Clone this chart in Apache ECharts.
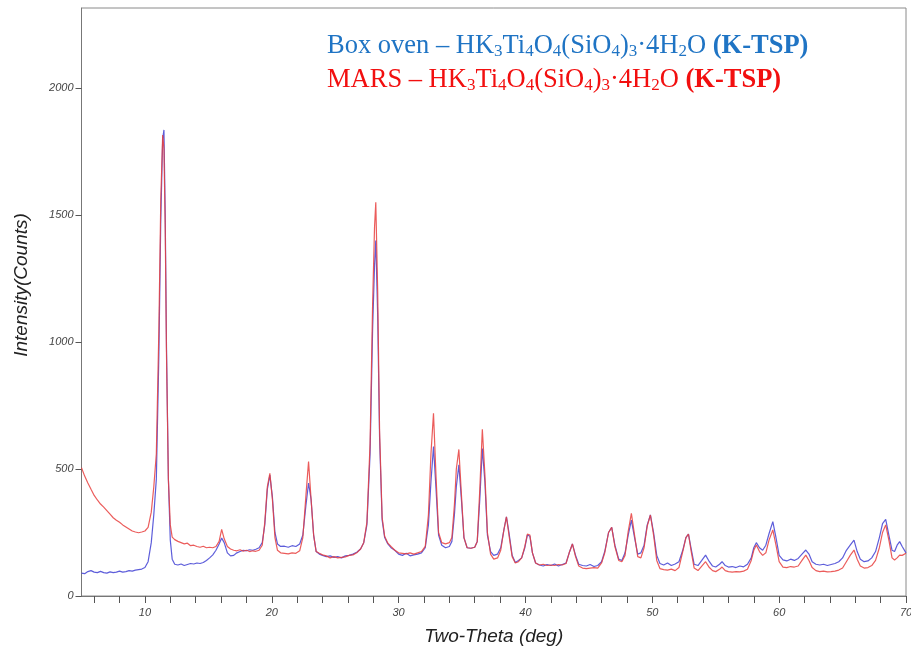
<!DOCTYPE html>
<html>
<head>
<meta charset="utf-8">
<style>
  html, body { margin: 0; padding: 0; background: #fff; }
  #chart { width: 911px; height: 649px; }
</style>
<script src="https://cdn.jsdelivr.net/npm/echarts@6/dist/echarts.min.js"></script>
</head>
<body>
<div id="chart"></div>
<script>
// 2-theta positions (deg) shared by both patterns
const twoTheta = [
  5.0, 5.25, 5.5, 5.75, 6.0, 6.25, 6.5, 6.75, 7.0, 7.25, 7.5, 7.75, 8.0, 8.25, 8.5, 8.75,
  9.0, 9.25, 9.5, 9.75, 10.0, 10.25, 10.5, 10.7, 10.9, 11.1, 11.25, 11.4, 11.5, 11.6, 11.7, 11.85,
  12.0, 12.15, 12.35, 12.6, 12.85, 13.1, 13.35, 13.6, 13.85, 14.1, 14.35, 14.6, 14.85, 15.1, 15.35, 15.6,
  15.85, 16.05, 16.25, 16.5, 16.75, 17.0, 17.25, 17.5, 17.75, 18.0, 18.25, 18.5, 18.75, 19.0, 19.25, 19.45,
  19.65, 19.85, 20.05, 20.25, 20.45, 20.7, 21.0, 21.3, 21.6, 21.9, 22.2, 22.45, 22.7, 22.9, 23.1, 23.3,
  23.5, 23.75, 24.0, 24.3, 24.6, 24.9, 25.2, 25.5, 25.8, 26.1, 26.4, 26.7, 27.0, 27.25, 27.5, 27.75,
  27.95, 28.1, 28.2, 28.35, 28.5, 28.7, 28.9, 29.15, 29.4, 29.7, 30.0, 30.3, 30.6, 30.9, 31.2, 31.5,
  31.8, 32.1, 32.35, 32.55, 32.75, 32.95, 33.15, 33.4, 33.7, 34.0, 34.2, 34.4, 34.55, 34.75, 34.95, 35.15,
  35.4, 35.7, 36.0, 36.2, 36.4, 36.6, 36.8, 37.0, 37.25, 37.5, 37.8, 38.05, 38.3, 38.5, 38.7, 38.95,
  39.2, 39.45, 39.7, 39.95, 40.15, 40.35, 40.55, 40.8, 41.1, 41.4, 41.7, 42.0, 42.3, 42.6, 42.9, 43.2,
  43.45, 43.7, 43.95, 44.2, 44.5, 44.8, 45.1, 45.4, 45.7, 46.0, 46.25, 46.55, 46.8, 47.05, 47.35, 47.6,
  47.85, 48.1, 48.35, 48.6, 48.85, 49.1, 49.35, 49.6, 49.85, 50.1, 50.35, 50.6, 50.9, 51.2, 51.5, 51.8,
  52.1, 52.4, 52.65, 52.85, 53.05, 53.3, 53.6, 53.9, 54.2, 54.5, 54.75, 55.0, 55.3, 55.5, 55.75, 56.0,
  56.3, 56.6, 56.9, 57.2, 57.5, 57.8, 58.0, 58.2, 58.45, 58.7, 58.95, 59.2, 59.5, 59.75, 60.0, 60.3,
  60.6, 60.9, 61.2, 61.5, 61.8, 62.1, 62.35, 62.6, 62.9, 63.2, 63.5, 63.8, 64.1, 64.4, 64.7, 65.0,
  65.3, 65.6, 65.9, 66.15, 66.4, 66.7, 67.0, 67.3, 67.6, 67.9, 68.15, 68.4, 68.65, 68.9, 69.1, 69.3,
  69.5, 69.7, 70.0
];

// Box oven pattern (counts)
const boxOven = [
  90, 88, 96, 100, 94, 92, 97, 92, 90, 95, 92, 94, 98, 94, 96, 100,
  98, 102, 104, 106, 112, 135, 210, 320, 460, 950, 1480, 1800, 1835, 1500, 980, 460,
  220, 145, 125, 122, 126, 120, 124, 128, 126, 130, 128, 132, 140, 150, 162, 180,
  205, 228, 210, 170, 158, 160, 170, 175, 180, 178, 182, 180, 184, 190, 210, 280,
  420, 476, 390, 250, 205, 195, 196, 192, 198, 195, 205, 240, 360, 445, 380, 240,
  175, 165, 160, 155, 158, 152, 155, 150, 158, 160, 165, 172, 185, 210, 280, 560,
  1050, 1300, 1400, 1100, 620, 300, 230, 205, 190, 180, 165, 160, 168, 158, 162, 165,
  170, 190, 280, 450, 588, 420, 240, 200, 190, 195, 215, 320, 430, 516, 380, 230,
  190, 188, 192, 215, 380, 581, 450, 240, 175, 160, 165, 190, 260, 312, 250, 160,
  132, 140, 150, 190, 240, 235, 170, 130, 122, 118, 124, 120, 126, 118, 124, 130,
  170, 205, 160, 125, 120, 118, 124, 116, 120, 135, 175, 250, 270, 200, 145, 140,
  170, 240, 299, 230, 165, 170, 200, 280, 319, 250, 160, 128, 122, 130, 120, 126,
  135, 180, 230, 244, 190, 125, 120, 140, 161, 135, 118, 114, 125, 135, 120, 114,
  116, 112, 118, 115, 125, 150, 190, 210, 190, 180, 200, 245, 293, 230, 160, 142,
  138, 145, 140, 148, 165, 181, 165, 135, 125, 122, 125, 120, 124, 128, 135, 150,
  180, 200, 220, 175, 145, 135, 138, 150, 175, 230, 285, 302, 240, 180, 175, 200,
  214, 195, 170
];

// MARS pattern (counts)
const mars = [
  505, 472, 445, 420, 396, 378, 362, 350, 336, 322, 308, 298, 290, 280, 272, 264,
  256, 252, 249, 252, 256, 270, 330, 430, 560, 1050, 1560, 1815, 1760, 1450, 950, 460,
  280, 232, 222, 215, 210, 205, 208, 198, 200, 195, 192, 196, 190, 192, 190, 195,
  215, 262, 225, 195, 185, 180, 178, 182, 176, 180, 175, 178, 176, 180, 200, 290,
  430, 483, 380, 230, 180, 170, 168, 166, 170, 168, 178, 230, 400, 529, 380, 240,
  175, 168, 162, 158, 150, 155, 150, 152, 154, 160, 162, 170, 185, 210, 290, 600,
  1150, 1450, 1550, 1200, 650, 310, 235, 208, 195, 180, 170, 168, 166, 170, 165, 170,
  175, 195, 320, 560, 719, 470, 250, 210, 205, 210, 230, 360, 500, 577, 400, 230,
  190, 188, 192, 215, 420, 656, 480, 250, 165, 145, 150, 180, 260, 312, 240, 155,
  130, 135, 150, 195, 244, 240, 170, 130, 122, 125, 120, 122, 120, 124, 122, 128,
  170, 205, 155, 118, 110, 108, 110, 112, 110, 130, 170, 250, 270, 195, 140, 135,
  160, 255, 325, 240, 155, 150, 190, 275, 319, 240, 140, 108, 104, 102, 106, 100,
  112, 175, 230, 244, 180, 110, 100, 118, 135, 112, 100, 96, 105, 114, 100, 96,
  94, 96, 95, 98, 105, 140, 180, 201, 175, 160, 170, 220, 260, 200, 135, 114,
  112, 116, 114, 118, 140, 161, 140, 112, 100, 96, 98, 95, 96, 98, 102, 110,
  135, 160, 181, 145, 118, 110, 112, 120, 140, 190, 250, 280, 220, 150, 142, 150,
  161, 160, 168
];

const xTicks = [6, 8, 10, 12, 14, 16, 18, 20, 22, 24, 26, 28, 30, 32, 34, 36, 38, 40,
  42, 44, 46, 48, 50, 52, 54, 56, 58, 60, 62, 64, 66, 68, 70];
const xLabels = [10, 20, 30, 40, 50, 60, 70];
const yTicks = [0, 500, 1000, 1500, 2000];

const chart = echarts.init(document.getElementById('chart'));

function legendLine(prefix, color) {
  return {
    type: 'text',
    left: 327,
    style: {
      text: prefix + ' – HK{s|3}Ti{s|4}O{s|4}(SiO{s|4}){s|3}·4H{s|2}O {b|(K-TSP)}',
      fill: color,
      font: '26.5px "Liberation Serif"',
      rich: {
        s: { fontSize: 17, lineHeight: 2, verticalAlign: 'bottom', fontFamily: 'Liberation Serif', fill: color },
        b: { fontSize: 26.5, fontWeight: 'bold', fontFamily: 'Liberation Serif', fill: color }
      }
    }
  };
}

const blueText = legendLine('Box oven', '#1f74c4');
blueText.top = 33;
const redText = legendLine('MARS', '#f20f0f');
redText.top = 67;

chart.setOption({
  animation: false,
  grid: {
    left: 81.5,
    right: 5,
    top: 8,
    bottom: 53,
    outerBoundsMode: 'none',
    show: true,
    borderColor: '#8a8a8a',
    borderWidth: 1
  },
  xAxis: {
    type: 'value',
    min: 5,
    max: 70,
    name: 'Two-Theta (deg)',
    nameLocation: 'middle',
    nameGap: 31,
    nameTextStyle: { fontFamily: 'Liberation Sans', fontStyle: 'italic', fontSize: 19, color: '#222' },
    splitLine: { show: false },
    axisLine: { lineStyle: { color: '#777', width: 1 } },
    axisTick: { customValues: xTicks, length: 7, lineStyle: { color: '#555' } },
    axisLabel: {
      customValues: xLabels,
      margin: 11,
      fontFamily: 'Liberation Sans',
      fontStyle: 'italic',
      fontSize: 11,
      color: '#444'
    }
  },
  yAxis: {
    type: 'value',
    min: 0,
    max: 2315,
    splitLine: { show: false },
    axisLine: { show: true, lineStyle: { color: '#777', width: 1 } },
    axisTick: { show: true, customValues: yTicks, length: 6, lineStyle: { color: '#555' } },
    axisLabel: {
      customValues: yTicks,
      formatter: v => String(v),
      margin: 8,
      fontFamily: 'Liberation Sans',
      fontStyle: 'italic',
      fontSize: 11,
      color: '#444'
    }
  },
  graphic: [
    {
      type: 'text',
      x: 22,
      y: 285,
      rotation: Math.PI / 2,
      style: {
        text: 'Intensity(Counts)',
        font: 'italic 19px "Liberation Sans"',
        fill: '#222',
        align: 'center',
        verticalAlign: 'middle'
      }
    },
    blueText,
    redText
  ],
  series: [
    {
      name: 'Box oven',
      type: 'line',
      data: twoTheta.map((x, i) => [x, boxOven[i]]),
      showSymbol: false,
      lineStyle: { color: '#4b4bd6', width: 1.2, opacity: 0.9 }
    },
    {
      name: 'MARS',
      type: 'line',
      data: twoTheta.map((x, i) => [x, mars[i]]),
      showSymbol: false,
      lineStyle: { color: '#e8403e', width: 1.2, opacity: 0.85 }
    }
  ]
});
</script>
</body>
</html>
